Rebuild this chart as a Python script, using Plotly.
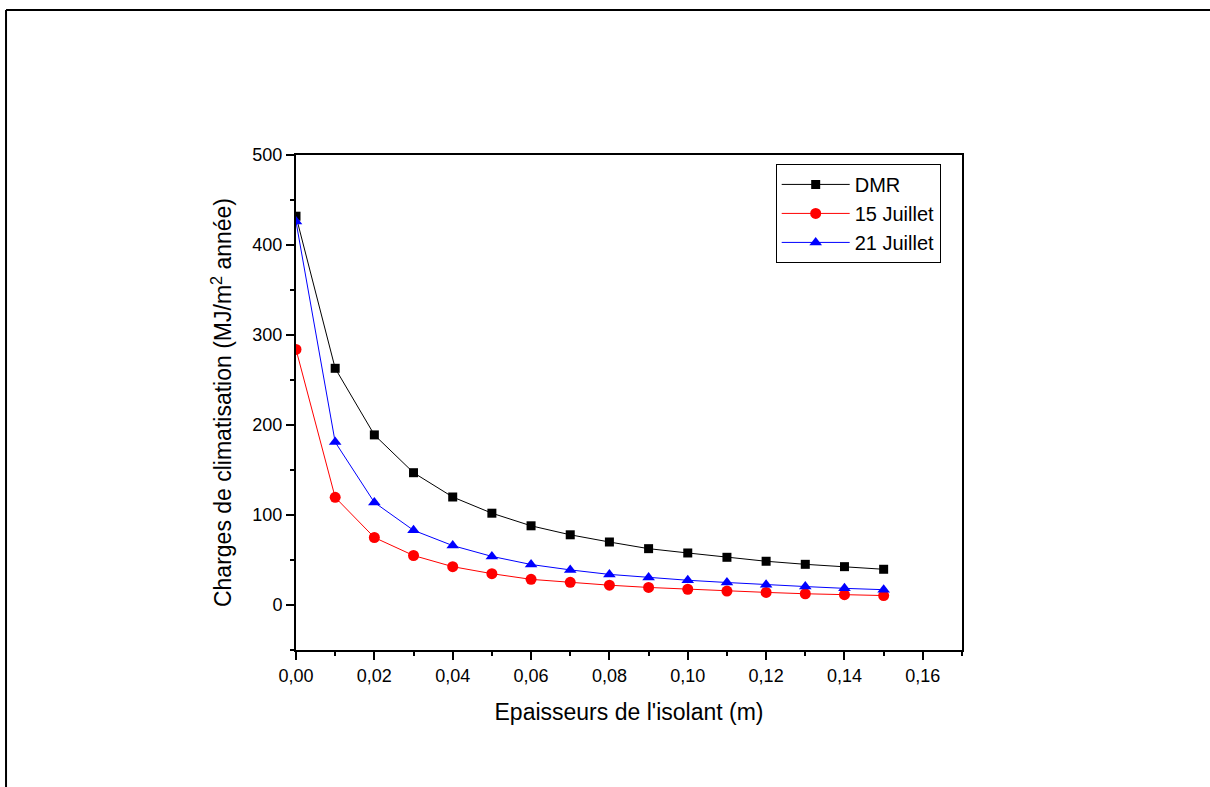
import plotly.graph_objects as go

thickness = [0.00, 0.01, 0.02, 0.03, 0.04, 0.05, 0.06, 0.07, 0.08, 0.09, 0.10, 0.11, 0.12, 0.13, 0.14, 0.15]
dmr = [432, 263, 189, 147, 120, 102, 88, 78, 70, 62.6, 57.8, 53, 48.6, 45.2, 42.6, 39.7]
juillet15 = [284, 119.6, 75, 55, 42.6, 34.8, 28.5, 25.2, 22, 19.5, 17.5, 15.5, 14, 12.5, 11.5, 10.5]
juillet21 = [426, 181, 114, 83, 66, 54, 45, 39, 34, 30.5, 27.5, 25, 22.5, 20.5, 18.5, 17]
y_ticks = [0, 100, 200, 300, 400, 500]
x_ticks = [0.00, 0.02, 0.04, 0.06, 0.08, 0.10, 0.12, 0.14, 0.16]

FONT = "Liberation Sans, Arial, sans-serif"

fig = go.Figure()
fig.add_trace(go.Scatter(x=thickness, y=dmr, name="DMR", mode="lines+markers",
                         line=dict(color="black", width=1),
                         marker=dict(symbol="square", size=9, color="black")))
fig.add_trace(go.Scatter(x=thickness, y=juillet15, name="15 Juillet", mode="lines+markers",
                         line=dict(color="red", width=1),
                         marker=dict(symbol="circle", size=11, color="red")))
fig.add_trace(go.Scatter(x=thickness, y=juillet21, name="21 Juillet", mode="lines+markers",
                         line=dict(color="blue", width=1),
                         marker=dict(symbol="triangle-up", size=11, color="blue")))

fig.update_layout(
    width=1210, height=787,
    margin=dict(l=296, r=248, t=155, b=137),
    paper_bgcolor="white", plot_bgcolor="white",
    separators=", ",
    font=dict(family=FONT, color="black", size=18),
    showlegend=True,
    legend=dict(x=0.968, y=0.982, xanchor="right", yanchor="top",
                bordercolor="black", borderwidth=1, bgcolor="white",
                font=dict(size=20, family=FONT), tracegroupgap=0,
                itemwidth=68),
    shapes=[
        dict(type="line", xref="paper", yref="paper", x0=-0.4354, x1=-0.4354,
             y0=1.2929, y1=-0.4, line=dict(color="black", width=2)),
        dict(type="line", xref="paper", yref="paper", x0=-0.4354, x1=1.4,
             y0=1.2929, y1=1.2929, line=dict(color="black", width=2)),
    ],
)

fig.update_xaxes(range=[0, 0.17], tickvals=x_ticks, tickformat=".2f",
                 showline=True, linecolor="black", linewidth=2, mirror=True,
                 ticks="outside", ticklen=8, tickwidth=2, tickcolor="black",
                 minor=dict(dtick=0.01, tick0=0, ticks="outside", ticklen=4, tickwidth=2, tickcolor="black"),
                 showgrid=False, zeroline=False,
                 tickfont=dict(size=18, family=FONT),
                 title=dict(text="Epaisseurs de l'isolant (m)", font=dict(size=23, family=FONT), standoff=19))
fig.update_yaxes(range=[-50, 500], tickvals=y_ticks,
                 showline=True, linecolor="black", linewidth=2, mirror=True,
                 ticks="outside", ticklen=8, tickwidth=2, tickcolor="black",
                 minor=dict(dtick=50, tick0=0, ticks="outside", ticklen=4, tickwidth=2, tickcolor="black"),
                 showgrid=False, zeroline=False,
                 tickfont=dict(size=18, family=FONT),
                 title=dict(text="Charges de climatisation (MJ/m<sup>2</sup> année)", font=dict(size=23, family=FONT), standoff=14))

fig.write_html("out.html")
